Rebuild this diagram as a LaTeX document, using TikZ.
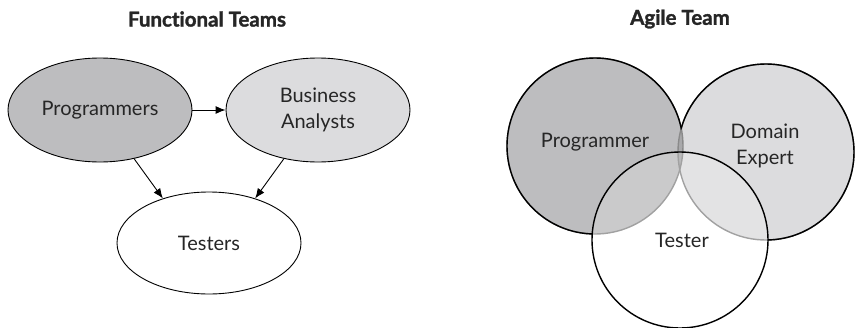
\documentclass[tikz,border=0pt]{standalone}
\usepackage{fontspec}
\setmainfont{Lato}[Ligatures=NoCommon]
\newfontfamily\heavyfont[Ligatures=NoCommon, BoldFeatures={FakeBold=1.5}]{Lato}
\usetikzlibrary{shapes.geometric,arrows.meta}

\definecolor{progray}{HTML}{BDBDBF}
\definecolor{domgray}{HTML}{DCDCDE}
\definecolor{lensgray}{HTML}{A9A9AB}
\definecolor{edgegray}{HTML}{8A8A8A}
\definecolor{inkgray}{HTML}{262626}

\tikzset{
  team/.style={ellipse, draw=black, line width=0.9pt, minimum width=184pt,
    minimum height=104pt, inner sep=0pt, align=center, text=inkgray,
    font=\fontsize{20}{26}\selectfont},
  teamtitle/.style={font=\heavyfont\bfseries\fontsize{20.5}{24}\selectfont, text=inkgray},
  vennlabel/.style={align=center, text=inkgray, font=\fontsize{20}{26}\selectfont},
  flow/.style={line width=0.9pt, -{Latex[length=10pt,width=8pt]}},
  venn/.style={line width=1.4pt}
}

\begin{document}
\begin{tikzpicture}[x=1pt,y=-1pt]
    \useasboundingbox (0,0) rectangle (855,327);

    % functional teams
    \node[teamtitle] (ftitle) at (207,19) {Functional Teams};
    \node[team, fill=progray] (prog) at (100,110) {Programmers};
    \node[team, fill=domgray] (ba) at (318,110) {Business\\Analysts};
    \node[team, fill=white, minimum height=102pt] (test) at (209,243) {Testers};

    \draw[flow] (prog) -- (ba);
    \draw[flow] (prog.-55) -- (test.136);
    \draw[flow] (ba.235) -- (test.44);

    % agile team
    \node[teamtitle] (atitle) at (680,19) {Agile Team};
    \coordinate (pc) at (595,146);
    \coordinate (dc) at (766,152);
    \coordinate (tc) at (680,240);

    \fill[progray] (pc) circle (88pt);
    \fill[domgray] (dc) circle (88pt);
    \begin{scope}
        \clip (pc) circle (88pt);
        \fill[lensgray] (dc) circle (88pt);
    \end{scope}
    \draw[venn, edgegray] (pc) circle (88pt);
    \draw[venn, edgegray] (dc) circle (88pt);
    \fill[white, fill opacity=0.2] (tc) circle (88pt);

    \begin{scope}[even odd rule]
        \clip (-50,-50) rectangle (905,377) (dc) circle (88pt);
        \clip (-50,-50) rectangle (905,377) (tc) circle (88pt);
        \draw[venn] (pc) circle (88pt);
    \end{scope}
    \begin{scope}[even odd rule]
        \clip (-50,-50) rectangle (905,377) (pc) circle (88pt);
        \clip (-50,-50) rectangle (905,377) (tc) circle (88pt);
        \draw[venn] (dc) circle (88pt);
    \end{scope}
    \draw[venn] (tc) circle (88pt);

    \node[vennlabel] (plabel) at (595,142) {Programmer};
    \node[vennlabel] (dlabel) at (765,146) {Domain\\Expert};
    \node[vennlabel] (tlabel) at (682,240) {Tester};
\end{tikzpicture}
\end{document}
